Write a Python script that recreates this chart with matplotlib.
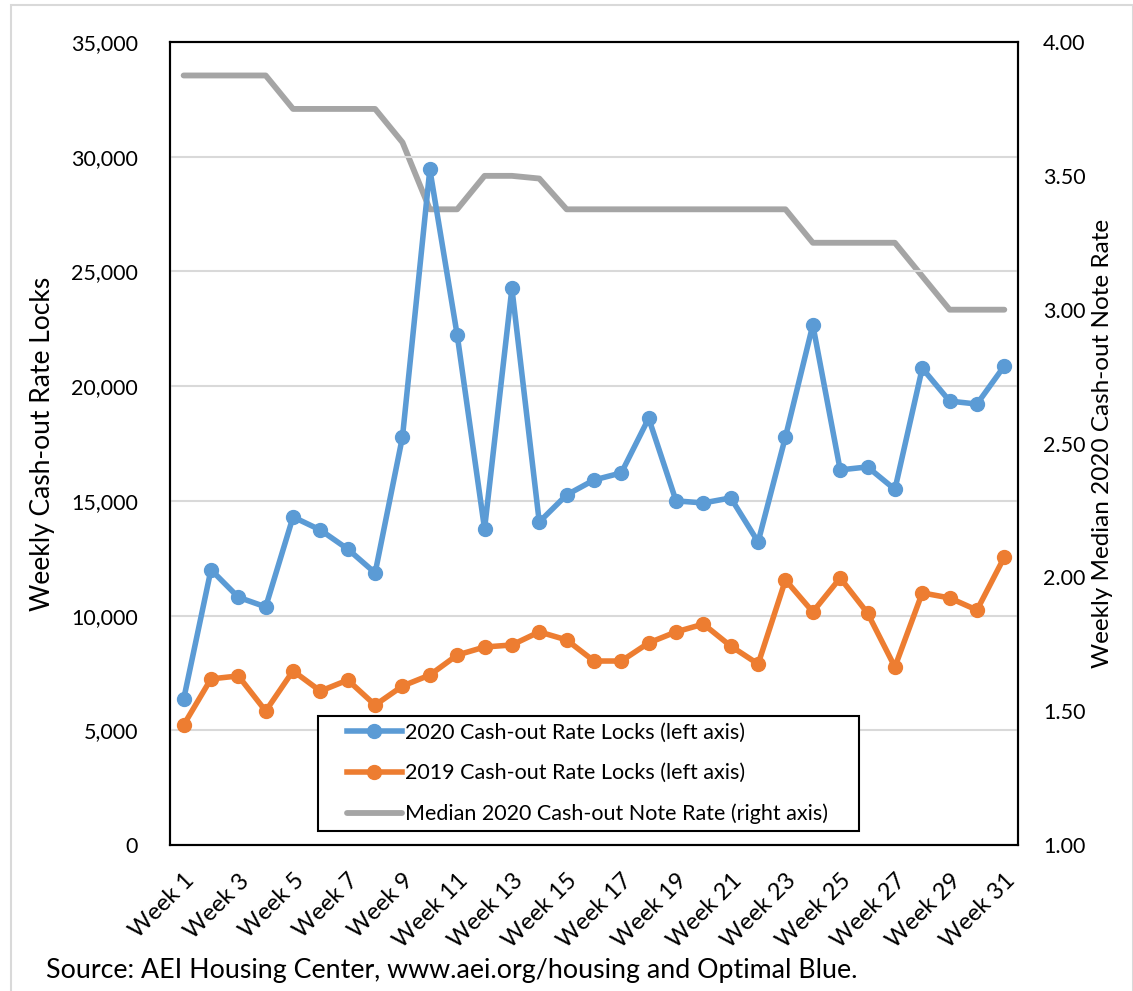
import matplotlib
matplotlib.use("Agg")
import matplotlib.pyplot as plt
from matplotlib.patches import Rectangle

weeks = [f"Week {i}" for i in range(1, 32)]
locks_2020 = [6350, 12000, 10800, 10380, 14300, 13730, 12900, 11860, 17790, 29450,
              22230, 13780, 24260, 14080, 15260, 15910, 16220, 18600, 15000, 14910,
              15130, 13210, 17790, 22670, 16350, 16480, 15500, 20780, 19350, 19220, 20880]
locks_2019 = [5230, 7240, 7370, 5840, 7590, 6710, 7190, 6100, 6930, 7410,
              8280, 8630, 8720, 9290, 8940, 8020, 8020, 8810, 9290, 9630,
              8670, 7890, 11550, 10160, 11640, 10110, 7760, 10990, 10770, 10240, 12550]
note_rate = [3.875, 3.875, 3.875, 3.875, 3.75, 3.75, 3.75, 3.75, 3.625, 3.375,
             3.375, 3.5, 3.5, 3.49, 3.375, 3.375, 3.375, 3.375, 3.375, 3.375,
             3.375, 3.375, 3.375, 3.25, 3.25, 3.25, 3.25, 3.125, 3.0, 3.0, 3.0]
left_ticks = list(range(0, 35001, 5000))
right_ticks = [1.0, 1.5, 2.0, 2.5, 3.0, 3.5, 4.0]

FONT = "Lato"
plt.rcParams['font.family'] = [FONT, 'DejaVu Sans']

fig = plt.figure(figsize=(11.33, 9.91), dpi=100)
ax = fig.add_axes([0.150, 0.1473, 0.7485, 0.8103])
ax2 = ax.twinx()

blue = "#5b9bd5"
orange = "#ed7d31"
grey = "#a5a5a5"

x = list(range(len(weeks)))
l3, = ax2.plot(x, note_rate, color=grey, lw=4.2, solid_capstyle='round',
               label="Median 2020 Cash-out Note Rate (right axis)", zorder=2)
l1, = ax.plot(x, locks_2020, color=blue, lw=4, marker='o', ms=10,
              label="2020 Cash-out Rate Locks (left axis)", zorder=3)
l2, = ax.plot(x, locks_2019, color=orange, lw=4, marker='o', ms=10,
              label="2019 Cash-out Rate Locks (left axis)", zorder=3)

ax.set_zorder(ax2.get_zorder() + 1)
ax.patch.set_visible(False)

ax.set_xlim(-0.5, len(weeks) - 0.5)
ax.set_ylim(0, 35000)
ax2.set_ylim(1.0, 4.0)
ax.set_yticks(left_ticks)
ax.set_yticklabels([f"{v:,}" for v in left_ticks], fontsize=15.5)
ax2.set_yticks(right_ticks)
ax2.set_yticklabels([f"{v:.2f}" for v in right_ticks], fontsize=15.5)
ax.set_xticks(x[::2])
ax.set_xticklabels(weeks[::2], rotation=45, ha='right', rotation_mode='anchor', fontsize=17)
ax.tick_params(axis='y', length=0, pad=23)
ax2.tick_params(axis='y', length=0, pad=18)
ax.tick_params(axis='x', length=0, pad=18)
ax.grid(axis='y', color='#d9d9d9', lw=1.5)
ax.set_axisbelow(True)

for a in (ax, ax2):
    for s in a.spines.values():
        s.set_color('black')
        s.set_linewidth(1.5)

ax.set_ylabel("Weekly Cash-out Rate Locks", fontsize=19)
ax.yaxis.set_label_coords(-0.1356, 0.5)
ax2.set_ylabel("Weekly Median 2020 Cash-out Note Rate", fontsize=17.5, rotation=90)
ax2.yaxis.set_label_coords(1.087, 0.5)

# legend frame drawn separately to match the reference box padding
ax.add_patch(Rectangle((0.1745, 0.0174), 0.8125 - 0.1745, 0.1606 - 0.0174,
                       transform=ax.transAxes, facecolor='white', edgecolor='black',
                       lw=1.5, zorder=10))
leg = ax.legend(handles=[l1, l2, l3], loc='center left',
                bbox_to_anchor=(0.2087, (0.0174 + 0.1606) / 2),
                borderaxespad=0, borderpad=0,
                fontsize=15.5, frameon=False, handlelength=2.55, handletextpad=0.15,
                labelspacing=0.95)
leg.set_zorder(11)

fig.text(0.041, 0.008, "Source: AEI Housing Center, www.aei.org/housing and Optimal Blue.",
         fontsize=19.3, ha='left', va='bottom')

fig.patches.append(Rectangle((0.0097, -0.01), 0.99, 1.005, transform=fig.transFigure,
                             fill=False, edgecolor='#d9d9d9', lw=1.5))

fig.savefig("out.png", dpi=100)
